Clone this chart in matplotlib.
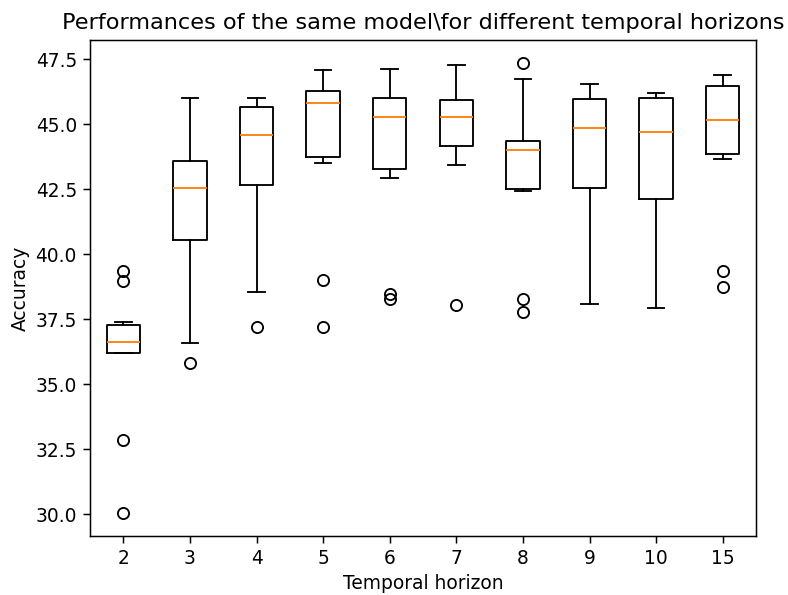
import matplotlib
matplotlib.use("Agg")
import matplotlib.pyplot as plt

# values
horizons = ['2', '3', '4', '5', '6', '7', '8', '9', '10', '15']
q1 = [36.21, 40.55, 42.65, 43.74, 43.28, 44.15, 42.51, 42.55, 42.12, 43.85]
median = [36.63, 42.55, 44.58, 45.82, 45.27, 45.30, 44.03, 44.86, 44.70, 45.17]
q3 = [37.27, 43.59, 45.68, 46.27, 46.03, 45.92, 44.38, 45.96, 46.01, 46.49]
whis_low = [36.20, 36.58, 38.54, 43.53, 42.95, 43.45, 42.42, 38.10, 37.95, 43.68]
whis_high = [37.40, 46.03, 46.03, 47.08, 47.15, 47.29, 46.74, 46.54, 46.21, 46.92]
outliers = [
    [39.35, 38.96, 32.85, 30.03],
    [35.82],
    [37.19],
    [39.03, 37.19],
    [38.49, 38.27],
    [38.06],
    [47.38, 38.27, 37.78],
    [],
    [],
    [39.36, 38.74],
]

s = 1.34
plt.rcParams['font.size'] = 10 * s
plt.rcParams['axes.linewidth'] = 0.8 * s
for ax_name in ['xtick', 'ytick']:
    plt.rcParams[ax_name + '.major.size'] = 3.5 * s
    plt.rcParams[ax_name + '.major.width'] = 0.8 * s
    plt.rcParams[ax_name + '.major.pad'] = 3.5 * s

stats = []
for i in range(len(horizons)):
    stats.append({'label': horizons[i], 'q1': q1[i], 'med': median[i], 'q3': q3[i],
                  'whislo': whis_low[i], 'whishi': whis_high[i], 'fliers': outliers[i]})

fig = plt.figure(figsize=(7.88, 5.95), dpi=100)
ax = fig.add_axes([90 / 788, 59 / 595, 666 / 788, 496 / 595])
ax.bxp(stats,
       boxprops=dict(linewidth=s),
       whiskerprops=dict(linewidth=s),
       capprops=dict(linewidth=s),
       medianprops=dict(linewidth=s, color='C1'),
       flierprops=dict(marker='o', markersize=6 * s, markeredgewidth=s,
                       markerfacecolor='none', markeredgecolor='black'))
ax.set_title('Performances of the same model\\for different temporal horizons', fontsize=12 * s, pad=6 * s)
ax.set_xlabel('Temporal horizon')
ax.set_ylabel('Accuracy')
fig.savefig('out.png', dpi=100)
